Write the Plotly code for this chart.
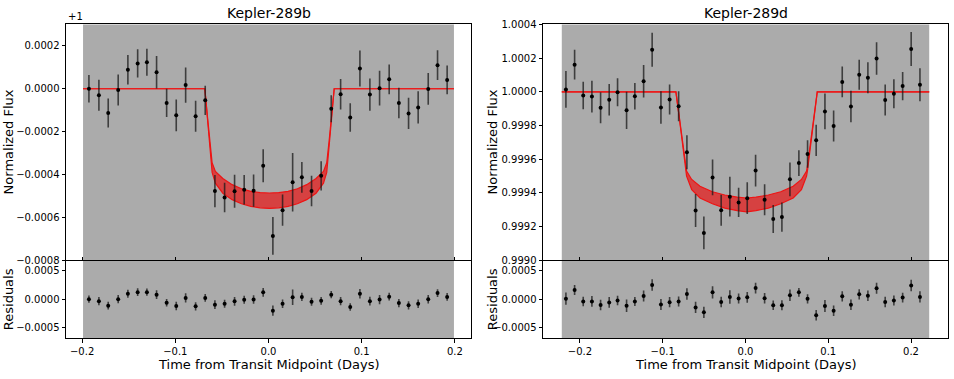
import plotly.graph_objects as go

FONT = "DejaVu Sans"

# ---- Kepler-289b (flux offsets from 1, in ppm) ----
b_time = [-0.1927, -0.1820, -0.1720, -0.1613, -0.1509, -0.1404, -0.1305, -0.1201,
          -0.1093, -0.0990, -0.0889, -0.0782, -0.0679, -0.0575, -0.0471, -0.0364,
          -0.0261, -0.0160, -0.0057, 0.0047, 0.0151, 0.0259, 0.0358, 0.0462,
          0.0565, 0.0673, 0.0774, 0.0877, 0.0981, 0.1088, 0.1192, 0.1295,
          0.1399, 0.1503, 0.1606, 0.1714, 0.1814, 0.1917]
b_flux = [0, -30, -113, -6, 89, 118, 124, 77, -66, -124, 17, -128, -54,
          -477, -507, -478, -471, -475, -359, -686, -566, -436, -413, -477, -406,
          -93, -26, -134, 94, -27, 3, 44, -66, -115, -87, -1, 110, 41]
b_err = [64, 72, 68, 72, 69, 66, 63, 76, 66, 74, 82, 72, 68, 75, 69, 77, 69, 75, 77,
         88, 73, 136, 72, 71, 68, 63, 71, 66, 84, 75, 81, 69, 71, 73, 75, 74, 69, 67]
b_resid = [0, -34, -113, 0, 96, 124, 124, 79, -62, -119, 23, -124, 22, -95, -80, -37,
           -10, -6, 120, -200, -80, 34, 40, -45, -28, 80, -34, -136, 96, -34, -6, 45,
           -68, -107, -80, 0, 107, 40]
b_model_t = [-0.199, -0.0683, -0.0655, -0.063, -0.0605, -0.057, -0.049, -0.039, -0.029,
             -0.019, -0.009, 0.001, 0.011, 0.021, 0.031, 0.041, 0.051, 0.059, 0.0625,
             0.065, 0.0677, 0.0705, 0.199]
b_model_hi = [0, 0, -130, -245, -345, -385, -418, -447, -466, -478, -484, -486, -484,
              -478, -466, -447, -418, -385, -345, -245, -130, 0, 0]
b_model_lo = [0, 0, -140, -270, -390, -440, -487, -517, -536, -548, -555, -558, -555,
              -548, -536, -517, -487, -440, -390, -270, -140, 0, 0]
b_raw_span = [-0.199, 0.199]

# ---- Kepler-289d ----
d_time = [-0.2170, -0.2065, -0.1961, -0.1856, -0.1751, -0.1647, -0.1546, -0.1437,
          -0.1337, -0.1231, -0.1128, -0.1022, -0.0917, -0.0808, -0.0708, -0.0603,
          -0.0503, -0.0398, -0.0294, -0.0189, -0.0083, 0.0021, 0.0122, 0.0231,
          0.0335, 0.0440, 0.0537, 0.0645, 0.0750, 0.0854, 0.0960, 0.1065,
          0.1169, 0.1274, 0.1374, 0.1479, 0.1584, 0.1688, 0.1793, 0.1899,
          0.2002, 0.2108]
d_flux = [14, 161, -22, -28, -95, -47, -3, -110, -26, 63, 250, -93, -45, -86, -359,
          -704, -837, -508, -703, -622, -656, -631, -467, -640, -755, -743, -519, -423,
          -369, -288, -116, -203, 59, -87, 101, 84, 198, -49, -12, 34, 254, 42]
d_err = [109, 88, 82, 94, 92, 94, 83, 111, 79, 96, 101, 96, 89, 89, 101, 98, 97, 106,
         92, 118, 87, 94, 94, 92, 83, 87, 100, 77, 82, 92, 106, 92, 91, 94, 89, 92, 96,
         92, 86, 84, 101, 98]
d_resid = [10, 160, -40, -40, -100, -57, -23, -115, -40, 57, 247, -92, -52, -40, 92,
           -144, -230, 120, -50, 38, 13, 34, 195, 17, -107, -107, 68, 120, 6, -280,
           -120, -200, 50, -97, 85, 62, 190, -50, -23, 28, 240, 40]
d_model_t = [-0.222, -0.0841, -0.080, -0.076, -0.0725, -0.0712, -0.065, -0.055, -0.040,
             -0.025, -0.010, 0.0013, 0.0126, 0.0276, 0.0426, 0.0576, 0.0676, 0.0738,
             0.0751, 0.0786, 0.0826, 0.0867, 0.222]
d_model_hi = [0, 0, -150, -300, -430, -470, -520, -560, -593, -612, -625, -630, -625,
              -612, -593, -560, -520, -470, -430, -300, -150, 0, 0]
d_model_lo = [0, 0, -155, -310, -460, -500, -580, -630, -664, -690, -705, -712, -705,
              -690, -664, -630, -580, -500, -460, -310, -155, 0, 0]
d_raw_span = [-0.222, 0.222]

PPM = 1e-6
RED = 'rgb(238,20,20)'
BAND = 'rgba(240,0,0,0.62)'
RAW_GRAY = '#ababab'

fig = go.Figure()


def add_panel(fig, xa, ya, xr, yr, t, flux, err, resid, mt, mhi, mlo, base):
    # model band
    fig.add_trace(go.Scatter(x=mt, y=[base + v * PPM for v in mhi], mode='lines',
                             line=dict(color=RED, width=1.2), xaxis=xa, yaxis=ya,
                             hoverinfo='skip'))
    fig.add_trace(go.Scatter(x=mt, y=[base + v * PPM for v in mlo], mode='lines',
                             line=dict(color=RED, width=1.2), fill='tonexty',
                             fillcolor=BAND, xaxis=xa, yaxis=ya, hoverinfo='skip'))
    # binned points
    fig.add_trace(go.Scatter(
        x=t, y=[base + v * PPM for v in flux], mode='markers',
        marker=dict(color='black', size=4),
        error_y=dict(type='data', array=[e * PPM for e in err], color='rgba(25,25,25,0.75)',
                     thickness=1.6, width=0),
        xaxis=xa, yaxis=ya))
    fig.add_trace(go.Scatter(
        x=t, y=[v * PPM for v in resid], mode='markers',
        marker=dict(color='black', size=4),
        error_y=dict(type='data', array=[e * PPM for e in err], color='rgba(25,25,25,0.75)',
                     thickness=1.6, width=0),
        xaxis=xr, yaxis=yr))


add_panel(fig, 'x', 'y', 'x2', 'y2', b_time, b_flux, b_err, b_resid,
          b_model_t, b_model_hi, b_model_lo, 0.0)
add_panel(fig, 'x3', 'y3', 'x4', 'y4', d_time, d_flux, d_err, d_resid,
          d_model_t, d_model_hi, d_model_lo, 1.0)

# raw data background (dense grey error bars in the original)
for xr, yr, span in [('x', 'y', b_raw_span), ('x2', 'y2', b_raw_span),
                     ('x3', 'y3', d_raw_span), ('x4', 'y4', d_raw_span)]:
    fig.add_shape(type='rect', xref=xr, yref=yr + ' domain', x0=span[0], x1=span[1],
                  y0=0, y1=1, fillcolor=RAW_GRAY, line=dict(width=0), layer='below')

W, H = 954, 379
left_dom = [66 / W, 471 / W]
right_dom = [543 / W, 948 / W]
main_dom = [(H - 263) / H, (H - 20) / H]
res_dom = [(H - 343) / H, (H - 263) / H]

base_ax = dict(showline=True, linecolor='black', linewidth=1, mirror=True,
               ticks='outside', ticklen=3.5, tickwidth=1, tickcolor='black',
               showgrid=False, zeroline=False,
               tickfont=dict(family=FONT, size=10, color='black'))
xticks = [-0.2, -0.1, 0.0, 0.1, 0.2]
b_xr = [-0.2173, 0.2173]
d_xr = [-0.2447, 0.2447]

fig.update_layout(
    xaxis=dict(base_ax, domain=left_dom, anchor='y', range=b_xr, tickvals=xticks,
               showticklabels=False, ticks='inside', ticklen=3),
    yaxis=dict(base_ax, domain=main_dom, anchor='x', range=[-0.0008, 0.0003],
               tickvals=[-0.0008, -0.0006, -0.0004, -0.0002, 0.0, 0.0002], tickformat='.4f'),
    xaxis2=dict(base_ax, domain=left_dom, anchor='y2', range=b_xr, tickvals=xticks,
                tickformat='.1f', mirror=False),
    yaxis2=dict(base_ax, domain=res_dom, anchor='x2', range=[-0.00068, 0.00068],
                tickvals=[-0.0005, 0.0, 0.0005], tickformat='.4f'),
    xaxis3=dict(base_ax, domain=right_dom, anchor='y3', range=d_xr, tickvals=xticks,
                showticklabels=False, ticks='inside', ticklen=3),
    yaxis3=dict(base_ax, domain=main_dom, anchor='x3', range=[0.9990, 1.0004],
                tickvals=[0.9990, 0.9992, 0.9994, 0.9996, 0.9998, 1.0000, 1.0002, 1.0004],
                tickformat='.4f'),
    xaxis4=dict(base_ax, domain=right_dom, anchor='y4', range=d_xr, tickvals=xticks,
                tickformat='.1f', mirror=False),
    yaxis4=dict(base_ax, domain=res_dom, anchor='x4', range=[-0.00068, 0.00068],
                tickvals=[-0.0005, 0.0, 0.0005], tickformat='.4f'),
    width=W, height=H,
    margin=dict(l=0, r=0, t=0, b=0),
    paper_bgcolor='white', plot_bgcolor='white',
    showlegend=False,
    font=dict(family=FONT, color='black'),
)

lab = dict(family=FONT, size=13, color='black')
annots = [
    dict(text='Kepler-289b', x=268.5 / W, y=(H - 8) / H, font=dict(family=FONT, size=14)),
    dict(text='Kepler-289d', x=745.5 / W, y=(H - 8) / H, font=dict(family=FONT, size=14)),
    dict(text='+1', x=66 / W, y=(H - 12) / H, xanchor='left', font=dict(family=FONT, size=10)),
    dict(text='Normalized Flux', x=8 / W, y=(H - 141.5) / H, textangle=-90, font=lab),
    dict(text='Residuals', x=8 / W, y=(H - 303) / H, textangle=-90, font=lab),
    dict(text='Normalized Flux', x=492 / W, y=(H - 141.5) / H, textangle=-90, font=lab),
    dict(text='Residuals', x=492 / W, y=(H - 303) / H, textangle=-90, font=lab),
    dict(text='Time from Transit Midpoint (Days)', x=268.5 / W, y=(H - 370) / H, font=lab),
    dict(text='Time from Transit Midpoint (Days)', x=745.5 / W, y=(H - 370) / H, font=lab),
]
for a in annots:
    a.setdefault('xanchor', 'center')
    fig.add_annotation(xref='paper', yref='paper', yanchor='middle', showarrow=False,
                       **a)

# drop the browser's default page margin so the figure sits at (0, 0)
fig.write_html("out.html", config={'displayModeBar': False},
               post_script="document.body.style.margin='0';")
